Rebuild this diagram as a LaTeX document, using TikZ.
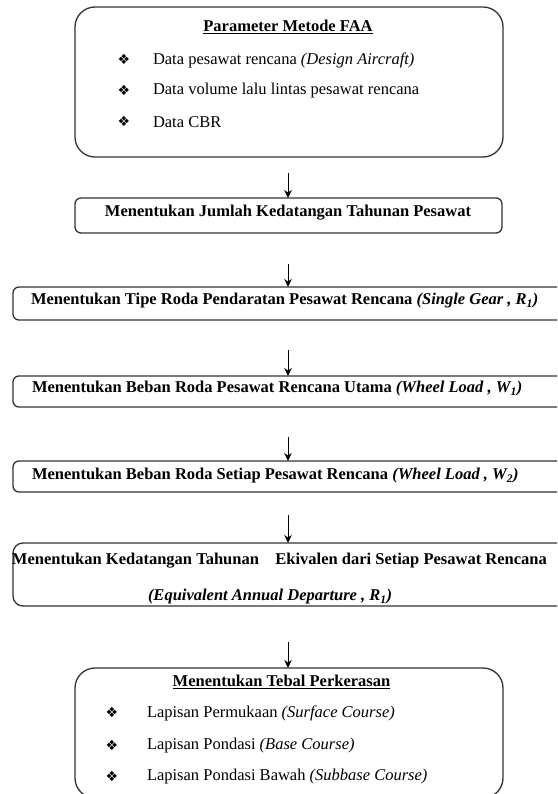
\documentclass[tikz,border=0pt]{standalone}
\usepackage{fontspec}
\setmainfont{Liberation Serif}
\newfontfamily\symfont{DejaVu Sans}
\usetikzlibrary{arrows.meta}
\newcommand{\bul}{{\symfont\fontsize{14}{16}\selectfont ❖}}
\begin{document}
\begin{tikzpicture}[x=1pt,y=-1pt,
  frame/.style={draw=black!80, line width=1.3pt, inner sep=0pt, outer sep=0pt},
  txt/.style={inner sep=0pt, outer sep=0pt, font=\fontsize{16.5}{19}\selectfont},
  conn/.style={draw=black, line width=1pt, -{Stealth[length=8pt,width=7.5pt]}}]
\useasboundingbox (0,0) rectangle (557,794);
\clip (0,0) rectangle (557,794);
% boxes
\node[frame, rounded corners=20pt, minimum width=428pt, minimum height=150pt] (b1) at (289,82) {};
\node[frame, rounded corners=6pt, minimum width=427pt, minimum height=35pt] (b2) at (288.5,215.5) {};
\node[frame, rounded corners=6pt, minimum width=587pt, minimum height=33pt] (b3) at (306.5,303.5) {};
\node[frame, rounded corners=6pt, minimum width=587pt, minimum height=31pt] (b4) at (306.5,391.5) {};
\node[frame, rounded corners=6pt, minimum width=587pt, minimum height=31pt] (b5) at (306.5,476.5) {};
\node[frame, rounded corners=10pt, minimum width=587pt, minimum height=63pt] (b6) at (306.5,574.5) {};
\node[frame, rounded corners=20pt, minimum width=428pt, minimum height=130pt] (b7) at (289,733) {};
% box 1 text
\node[txt] (t1) at (288,27) {\textbf{\underline{Parameter Metode FAA}}};
\node[txt] (u1) at (124,59) {\bul};
\node[txt, anchor=west] (i1) at (153,60) {Data pesawat rencana \textit{(Design Aircraft)}};
\node[txt] (u2) at (124,90) {\bul};
\node[txt, anchor=west] (i2) at (153,91) {Data volume lalu lintas pesawat rencana};
\node[txt] (u3) at (124,121) {\bul};
\node[txt, anchor=west] (i3) at (153,122) {Data CBR};
% box 2..6 text
\node[txt] (t2) at (288,213) {\textbf{Menentukan Jumlah Kedatangan Tahunan Pesawat}};
\node[txt, anchor=west] (t3) at (31,301) {\textbf{Menentukan Tipe Roda Pendaratan Pesawat Rencana \textit{(Single Gear , R\textsubscript{1})}}};
\node[txt, anchor=west] (t4) at (32,389) {\textbf{Menentukan Beban Roda Pesawat Rencana Utama \textit{(Wheel Load , W\textsubscript{1})}}};
\node[txt, anchor=west] (t5) at (32,476) {\textbf{Menentukan Beban Roda Setiap Pesawat Rencana \textit{(Wheel Load , W\textsubscript{2})}}};
\node[txt, anchor=west] (t6a) at (12,561) {\textbf{Menentukan Kedatangan Tahunan\ \ \ \ Ekivalen dari Setiap Pesawat Rencana}};
\node[txt, anchor=west] (t6b) at (148,597) {\textbf{\textit{(Equivalent Annual Departure , R\textsubscript{1})}}};
% box 7 text
\node[txt] (t7) at (281.5,682) {\textbf{\underline{Menentukan Tebal Perkerasan}}};
\node[txt] (v1) at (112,712) {\bul};
\node[txt, anchor=west] (j1) at (147,713) {Lapisan Permukaan \textit{(Surface Course)}};
\node[txt] (v2) at (112,745) {\bul};
\node[txt, anchor=west] (j2) at (147,746) {Lapisan Pondasi \textit{(Base Course)}};
\node[txt] (v3) at (112,776) {\bul};
\node[txt, anchor=west] (j3) at (147,777) {Lapisan Pondasi Bawah \textit{(Subbase Course)}};
% connectors
\coordinate (s1) at (288,173);
\coordinate (s2) at (288,264);
\coordinate (s3) at (288,350);
\coordinate (s4) at (288,437);
\coordinate (s5) at (288,515);
\coordinate (s6) at (288,642);
\draw[conn] (s1) -- (s1 |- b2.north);
\draw[conn] (s2) -- (s2 |- b3.north);
\draw[conn] (s3) -- (s3 |- b4.north);
\draw[conn] (s4) -- (s4 |- b5.north);
\draw[conn] (s5) -- (s5 |- b6.north);
\draw[conn] (s6) -- (s6 |- b7.north);
\end{tikzpicture}
\end{document}
